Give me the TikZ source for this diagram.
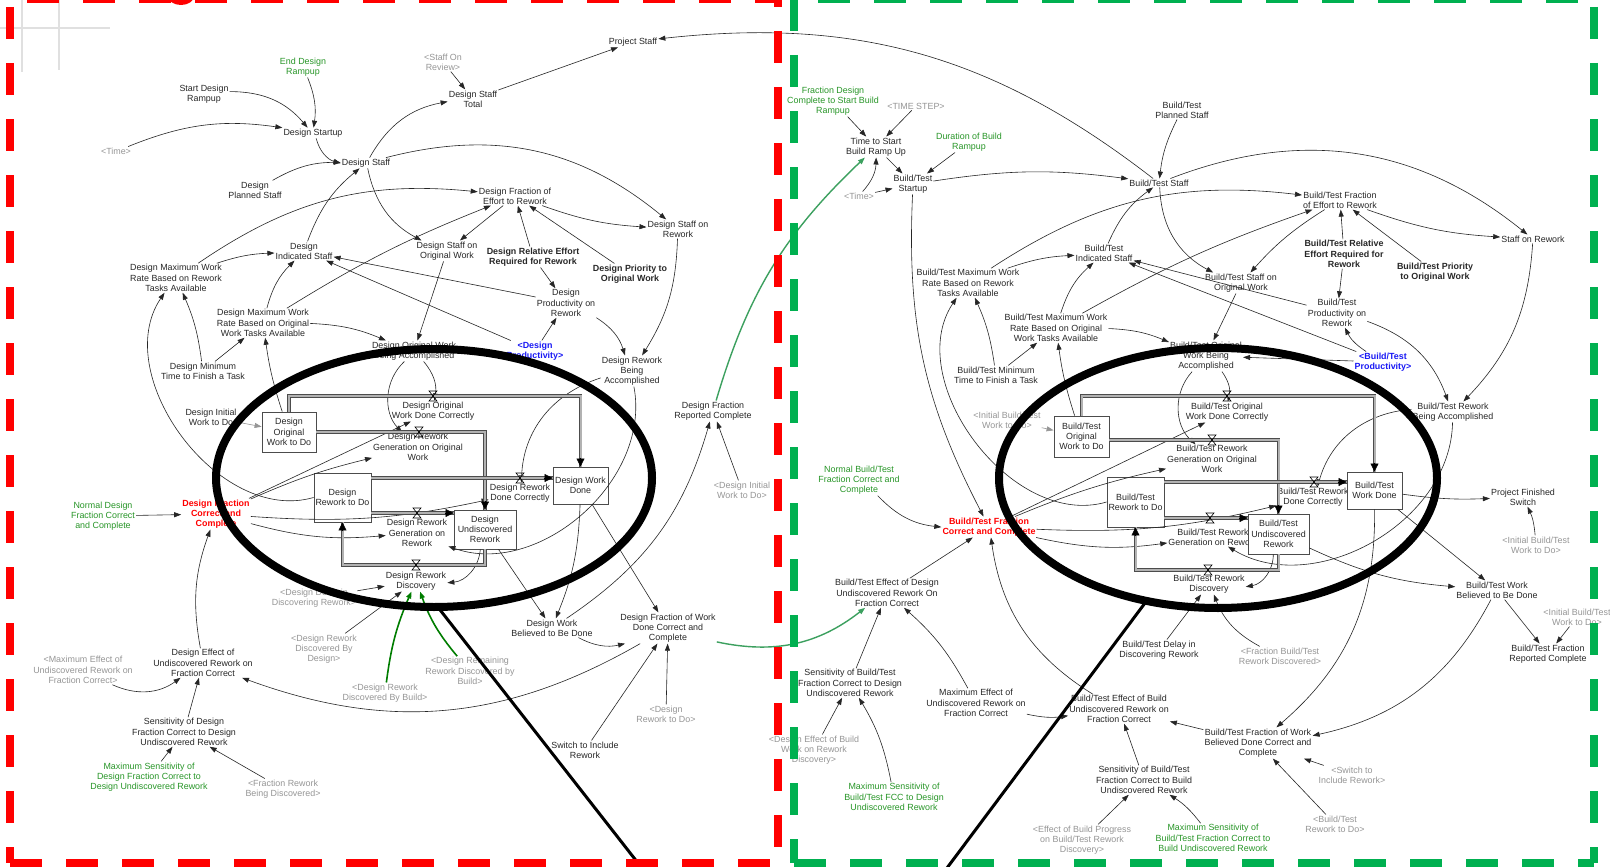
\documentclass[tikz,border=0pt]{standalone}
\usepackage{fontspec}
\setmainfont{Liberation Sans}
\usetikzlibrary{arrows.meta, calc}

\definecolor{vtext}{RGB}{40,40,40}
\definecolor{vgray}{RGB}{150,150,150}
\definecolor{vgreen}{RGB}{40,150,40}
\definecolor{vblue}{RGB}{25,25,245}
\definecolor{framegreen}{RGB}{0,176,80}
\definecolor{feedgreen}{RGB}{60,160,95}
\definecolor{darkfeed}{RGB}{0,125,0}
\newcommand\varfont{\fontsize{8.9pt}{10.3pt}\selectfont}

\begin{document}
\begin{tikzpicture}[
    x=1pt, y=-1pt,
    var/.style={align=center, font=\varfont, text=vtext, inner sep=1pt},
    shadowvar/.style={var, text=vgray},
    constvar/.style={var, text=vgreen},
    boldvar/.style={var, font=\varfont\bfseries},
    hotvar/.style={boldvar, text=red},
    extvar/.style={boldvar, text=vblue},
    stock/.style={draw=black!70, fill=white, line width=0.8pt, align=center, font=\varfont, text=vtext, inner sep=1pt},
    link/.style={-{Triangle[length=7pt,width=5pt]}, line width=0.6pt, draw=black!85},
    shlink/.style={link, draw=vgray},
    feed/.style={link, draw=feedgreen, line width=1.4pt},
    bfeed/.style={link, draw=darkfeed, line width=1.6pt},
    pipe/.style={draw=black!70, double=black!30, double distance=2pt, line width=0.8pt},
    pipetip/.style={-{Triangle[length=8pt,width=8pt]}, line width=0.4pt},
    arcl/.style={bend left=#1}, arcr/.style={bend right=#1},
    valve/.pic={\draw[line width=0.6pt] (-4,-5) -- (4,-5) -- (-4,5) -- (4,5) -- cycle;},
    secframe/.style={line width=8pt, dash pattern=on 32pt off 24pt}
]
\useasboundingbox (0,0) rectangle (1610,867);
\fill[white] (0,0) rectangle (1610,867);

% grid marks, top left
\draw[black!12, line width=1.3pt] (0,28) -- (110,28) (22,0) -- (22,72) (59,0) -- (59,70);
\fill[red] (181,-4) ellipse [x radius=13pt, y radius=9pt];

%%% design sector
\node[constvar] (edr) at (303,67) {End Design\\Rampup};
\node[var] (sdr) at (204,94) {Start Design\\Rampup};
\node[shadowvar] (tm1) at (116,151) {<Time>};
\node[var] (dsu) at (313,133) {Design Startup};
\node[var] (ds) at (366,163) {Design Staff};
\node[var] (dps) at (255,190) {Design\\Planned Staff};
\node[shadowvar] (sor) at (443,62) {<Staff On\\Review>};
\node[var] (dst) at (473,99) {Design Staff\\Total};
\node[var] (ps) at (633,42) {Project Staff};
\node[var] (dfe) at (515,196) {Design Fraction of\\Effort to Rework};
\node[var] (dsr) at (678,229) {Design Staff on\\Rework};
\node[var] (dis) at (304,251) {Design\\Indicated Staff};
\node[var] (dso) at (447,251) {Design Staff on\\Original Work};
\node[boldvar] (dre) at (533,257) {Design Relative Effort\\Required for Rework};
\node[boldvar] (dpo) at (630,274) {Design Priority to\\Original Work};
\node[var] (dmr) at (176,278) {Design Maximum Work\\Rate Based on Rework\\Tasks Available};
\node[var] (dpr) at (566,303) {Design\\Productivity on\\Rework};
\node[var] (dmo) at (263,323) {Design Maximum Work\\Rate Based on Original\\Work Tasks Available};
\node[var] (doba) at (414,351) {Design Original Work\\Being Accomplished};
\node[extvar] (dprod) at (535,351) {<Design\\Productivity>};
\node[var] (drba) at (632,371) {Design Rework\\Being\\Accomplished};
\node[var] (dmin) at (203,371) {Design Minimum\\Time to Finish a Task};
\node[var] (diw) at (211,417) {Design Initial\\Work to Do};
\node[var] (dfrc) at (713,411) {Design Fraction\\Reported Complete};
\node[shadowvar] (diwd) at (742,490) {<Design Initial\\Work to Do>};
\node[constvar] (ndfc) at (103,516) {Normal Design\\Fraction Correct\\and Complete};
\node[hotvar] (dfc) at (216,514) {Design Fraction\\Correct and\\Complete};
\node[shadowvar] (ddel) at (314,598) {<Design Delay in\\Discovering Rework>};
\node[var] (dwbd) at (552,628) {Design Work\\Believed to Be Done};
\node[var] (dfwd) at (668,628) {Design Fraction of Work\\Done Correct and\\Complete};
\node[shadowvar] (drdd) at (324,649) {<Design Rework\\Discovered By\\Design>};
\node[var] (deff) at (203,663) {Design Effect of\\Undiscovered Rework on\\Fraction Correct};
\node[shadowvar] (mxe) at (83,670) {<Maximum Effect of\\Undiscovered Rework on\\Fraction Correct>};
\node[shadowvar] (drrb) at (470,671) {<Design Remaining\\Rework Discovered by\\Build>};
\node[shadowvar] (drdb) at (385,693) {<Design Rework\\Discovered By Build>};
\node[shadowvar] (drtd) at (666,714) {<Design\\Rework to Do>};
\node[var] (sdf) at (184,732) {Sensitivity of Design\\Fraction Correct to Design\\Undiscovered Rework};
\node[var] (sir) at (585,750) {Switch to Include\\Rework};
\node[constvar] (msd) at (149,777) {Maximum Sensitivity of\\Design Fraction Correct to\\Design Undiscovered Rework};
\node[shadowvar] (frbd) at (283,789) {<Fraction Rework\\Being Discovered>};
% design flows
\node[var] (dodc) at (433,411) {Design Original\\Work Done Correctly};
\node[var] (drgo) at (418,447) {Design Rework\\Generation on Original\\Work};
\node[var] (drdc) at (520,493) {Design Rework\\Done Correctly};
\node[var] (drgr) at (417,533) {Design Rework\\Generation on\\Rework};
\node[var] (drdis) at (416,581) {Design Rework\\Discovery};
\coordinate (dv1) at (433,396);
\coordinate (dv2) at (419,432);
\coordinate (dv3) at (520,478);
\coordinate (dv4) at (417,513);
\coordinate (dv5) at (416,565);
% design stocks
\node[stock, minimum width=54pt, minimum height=40pt] (dowd) at (289,432) {Design\\Original\\Work to Do};
\node[stock, minimum width=57pt, minimum height=49pt] (drwd) at (342.5,497.5) {Design\\Rework to Do};
\node[stock, minimum width=55pt, minimum height=37pt] (dwd) at (580.5,485.5) {Design Work\\Done};
\node[stock, minimum width=62pt, minimum height=39pt] (dudr) at (485,529.5) {Design\\Undiscovered\\Rework};

%%% build/test sector
\node[constvar] (fdc) at (833,101) {Fraction Design\\Complete to Start Build\\Rampup};
\node[shadowvar] (tstep) at (916,106) {<TIME STEP>};
\node[var] (tsb) at (876,147) {Time to Start\\Build Ramp Up};
\node[constvar] (dbr) at (969,142) {Duration of Build\\Rampup};
\node[var] (btsu) at (913,184) {Build/Test\\Startup};
\node[shadowvar] (tm2) at (859,196) {<Time>};
\node[var] (btps) at (1182,110) {Build/Test\\Planned Staff};
\node[var] (bts) at (1159,183) {Build/Test Staff};
\node[var] (btfe) at (1340,200) {Build/Test Fraction\\of Effort to Rework};
\node[var] (sor2) at (1533,239) {Staff on Rework};
\node[var] (btis) at (1104,253) {Build/Test\\Indicated Staff};
\node[boldvar] (btre) at (1344,254) {Build/Test Relative\\Effort Required for\\Rework};
\node[boldvar] (btpo) at (1435,272) {Build/Test Priority\\to Original Work};
\node[var] (btso) at (1241,283) {Build/Test Staff on\\Original Work};
\node[var] (btmr) at (968,283) {Build/Test Maximum Work\\Rate Based on Rework\\Tasks Available};
\node[var] (btpr) at (1337,313) {Build/Test\\Productivity on\\Rework};
\node[var] (btmo) at (1056,328) {Build/Test Maximum Work\\Rate Based on Original\\Work Tasks Available};
\node[var] (btoba) at (1206,356) {Build/Test Original\\Work Being\\Accomplished};
\node[extvar] (btprod) at (1383,362) {<Build/Test\\Productivity>};
\node[var] (btmin) at (996,375) {Build/Test Minimum\\Time to Finish a Task};
\node[var] (btrba) at (1453,412) {Build/Test Rework\\Being Accomplished};
\node[shadowvar] (ibw1) at (1007,420) {<Initial Build/Test\\Work to Do>};
\node[constvar] (nbfc) at (859,480) {Normal Build/Test\\Fraction Correct and\\Complete};
\node[var] (pfs) at (1523,497) {Project Finished\\Switch};
\node[hotvar] (btfc) at (989,527) {Build/Test Fraction\\Correct and Complete};
\node[shadowvar] (ibw2) at (1536,545) {<Initial Build/Test\\Work to Do>};
\node[var] (btwbd) at (1497,590) {Build/Test Work\\Believed to Be Done};
\node[var] (bted) at (887,593) {Build/Test Effect of Design\\Undiscovered Rework On\\Fraction Correct};
\node[shadowvar] (ibw3) at (1577,617) {<Initial Build/Test\\Work to Do>};
\node[var] (btdel) at (1159,650) {Build/Test Delay in\\Discovering Rework};
\node[var] (btfrc) at (1548,654) {Build/Test Fraction\\Reported Complete};
\node[shadowvar] (fbrd) at (1280,656) {<Fraction Build/Test\\Rework Discovered>};
\node[var] (sbd) at (850,683) {Sensitivity of Build/Test\\Fraction Correct to Design\\Undiscovered Rework};
\node[var] (mxe2) at (976,703) {Maximum Effect of\\Undiscovered Rework on\\Fraction Correct};
\node[var] (bteb) at (1119,709) {Build/Test Effect of Build\\Undiscovered Rework on\\Fraction Correct};
\node[var] (btfwb) at (1258,743) {Build/Test Fraction of Work\\Believed Done Correct and\\Complete};
\node[shadowvar] (debw) at (814,750) {<Design Effect of Build\\Work on Rework\\Discovery>};
\node[shadowvar] (sir2) at (1352,775) {<Switch to\\Include Rework>};
\node[var] (sbb) at (1144,780) {Sensitivity of Build/Test\\Fraction Correct to Build\\Undiscovered Rework};
\node[constvar] (msbd) at (894,797) {Maximum Sensitivity of\\Build/Test FCC to Design\\Undiscovered Rework};
\node[shadowvar] (btrtd) at (1335,824) {<Build/Test\\Rework to Do>};
\node[constvar] (msb) at (1213,838) {Maximum Sensitivity of\\Build/Test Fraction Correct to\\Build Undiscovered Rework};
\node[shadowvar] (ebp) at (1082,840) {<Effect of Build Progress\\on Build/Test Rework\\Discovery>};
% build/test flows
\node[var] (btodc) at (1227,412) {Build/Test Original\\Work Done Correctly};
\node[var] (btrgo) at (1212,459) {Build/Test Rework\\Generation on Original\\Work};
\node[var] (btrdc) at (1313,497) {Build/Test Rework\\Done Correctly};
\node[var] (btrgr) at (1213,537) {Build/Test Rework\\Generation on Rework};
\node[var] (btrdis) at (1209,584) {Build/Test Rework\\Discovery};
\coordinate (bv1) at (1227,396);
\coordinate (bv2) at (1212,440);
\coordinate (bv3) at (1314,482);
\coordinate (bv4) at (1210,518);
\coordinate (bv5) at (1208,570);
% build/test stocks
\node[stock, minimum width=55pt, minimum height=41pt] (btowd) at (1081.5,436.5) {Build/Test\\Original\\Work to Do};
\node[stock, minimum width=57pt, minimum height=50pt] (btrwd) at (1135.5,502) {Build/Test\\Rework to Do};
\node[stock, minimum width=55pt, minimum height=37pt] (btwd) at (1374.5,490.5) {Build/Test\\Work Done};
\node[stock, minimum width=61pt, minimum height=40pt] (btudr) at (1278.5,534) {Build/Test\\Undiscovered\\Rework};

% design links
\draw[link] (sdr) to[arcl=25] (dsu);
\draw[link] (edr) to[arcl=15] (dsu);
\draw[link] (tm1) to[arcl=15] (dsu);
\draw[link] (dsu) to[arcr=30] (ds);
\draw[link] (dps) to[arcl=15] (ds);
\draw[link] (dis) to[arcl=15] (ds);
\draw[link] (ds) to[arcl=25] (dst);
\draw[link] (sor) -- (dst);
\draw[link] (dst) -- (ps);
\draw[link] (ds) to[arcl=27] (dsr);
\draw[link] (ds) to[arcr=25] (dso);
\draw[link] (dfe) -- (dso);
\draw[link] (dfe) to[arcr=8] (dsr);
\draw[link] (dre) -- (dfe);
\draw[link] (dpo) -- (dfe);
\draw[link] (dre) -- (dpr);
\draw[link] (dmr) to[arcl=20] (dfe);
\draw[link] (dmo) to[arcl=5] (dfe);
\draw[link] (dmr) to[arcl=8] (dis);
\draw[link] (dmo) to[arcl=15] (dis);
\draw[link] (dmin) to[arcr=8] (dmr);
\draw[link] (dmin) -- (dmo);
\draw[link] (dowd) to[arcl=5] (dmo);
\draw[link] (drwd.west) to[arcl=70] (dmr);
\draw[shlink] (diw) -- (dowd);
\draw[link] (dprod) -- (dis);
\draw[link] (dprod) -- (dpr);
\draw[link] (dpr) -- (dis);
\draw[link] (dso) -- (doba);
\draw[link] (dmo) to[arcl=10] (doba);
\draw[link] (doba) to[arcl=25] (dodc);
\draw[link] (doba) to[arcr=45] (drgo);
\draw[link] (dfc) -- (dodc);
\draw[link] (dfc) to[arcl=5] (drgo);
\draw[link] (dfc) to[arcr=8] (drdc);
\draw[link] (dfc) to[arcr=10] (drgr);
\draw[link] (drba) to[arcr=35] (drdc);
\draw[link] (drba) to[arcl=60] (drgr);
\draw[link] (dsr) to[arcl=15] (drba);
\draw[link] (dpr) to[arcl=20] (drba);
\draw[link] (dudr) to[arcl=40] (drdis);
\draw[link] (ddel) -- (drdis);
\draw[link] (drdd) -- (drdis);
\draw[bfeed] (drdb) to[arcl=8] (drdis);
\draw[bfeed] (drrb) to[arcl=10] (drdis);
\draw[link] (dudr) -- (dwbd);
\draw[link] (dwd) to[arcl=10] (dwbd);
\draw[link] (dwd) -- (dfwd);
\draw[link] (dwbd) to[arcr=20] (dfwd);
\draw[link] (sir) -- (dfwd);
\draw[link] (drtd) -- (dfwd);
\draw[link] (dfwd) to[arcl=25] (deff);
\draw[link] (dwbd) to[arcr=20] (dfrc);
\draw[link] (diwd) -- (dfrc);
\draw[link] (deff) to[arcl=15] (dfc);
\draw[link] (ndfc) -- (dfc);
\draw[link] (mxe) to[arcr=30] (deff);
\draw[link] (sdf) -- (deff);
\draw[link] (msd) -- (sdf);
\draw[link] (frbd) -- (sdf);

% links between sectors
\draw[link] (bts) to[arcr=22] (ps);
\draw[feed] (dfrc) to[arcl=15] (tsb);
\draw[feed] (dfwd) to[arcr=25] (bted);

% build/test links
\draw[link] (fdc) -- (tsb);
\draw[link] (tstep) -- (tsb);
\draw[link] (tm2) to[arcr=20] (tsb);
\draw[link] (tm2) -- (btsu);
\draw[link] (tsb) -- (btsu);
\draw[link] (dbr) -- (btsu);
\draw[link] (btsu) to[arcl=8] (bts);
\draw[link] (btsu) to[arcr=15] (btfc);
\draw[link] (btps) to[arcr=10] (bts);
\draw[link] (btis) to[arcl=15] (bts);
\draw[link] (bts) to[arcl=30] (sor2);
\draw[link] (bts) to[arcr=30] (btso);
\draw[link] (btfe) to[arcr=8] (btso);
\draw[link] (btfe) to[arcr=8] (sor2);
\draw[link] (btre) -- (btfe);
\draw[link] (btpo) -- (btfe);
\draw[link] (btre) -- (btpr);
\draw[link] (btmr) to[arcl=20] (btfe);
\draw[link] (btmo) to[arcl=5] (btfe);
\draw[link] (btmr) to[arcl=8] (btis);
\draw[link] (btmo) to[arcl=15] (btis);
\draw[link] (btmin) to[arcr=8] (btmr);
\draw[link] (btmin) -- (btmo);
\draw[link] (btowd) to[arcl=5] (btmo);
\draw[link] (btrwd.west) to[arcl=70] (btmr);
\draw[shlink] (ibw1) -- (btowd);
\draw[link] (btprod) -- (btis);
\draw[link] (btprod) to[arcl=15] (btpr);
\draw[link] (btprod) -- (btoba);
\draw[link] (btpr) -- (btis);
\draw[link] (btpr) to[arcl=25] (btrba);
\draw[link] (btso) -- (btoba);
\draw[link] (btmo) to[arcl=10] (btoba);
\draw[link] (sor2) to[arcl=20] (btrba);
\draw[link] (btoba) to[arcl=25] (btodc);
\draw[link] (btoba) to[arcr=45] (btrgo);
\draw[link] (btfc) -- (btodc);
\draw[link] (btfc) to[arcl=5] (btrgo);
\draw[link] (btfc) to[arcr=8] (btrdc);
\draw[link] (btfc) to[arcr=10] (btrgr);
\draw[link] (btrba) to[arcr=35] (btrdc);
\draw[link] (btrba) to[arcl=60] (btrgr);
\draw[link] (btudr) to[arcl=40] (btrdis);
\draw[link] (btdel) -- (btrdis);
\draw[link] (fbrd) to[arcl=20] (btrdis);
\draw[link] (btudr) to[arcr=10] (btwbd);
\draw[link] (btwd) -- (btwbd);
\draw[link] (btwd) to[arcr=5] (pfs);
\draw[link] (btwd) to[arcl=25] (btfwb);
\draw[link] (ibw2) to[arcr=10] (pfs);
\draw[link] (btwbd) -- (btfrc);
\draw[link] (ibw3) -- (btfrc);
\draw[link] (btwbd) to[arcl=25] (btfwb);
\draw[link] (sir2) -- (btfwb);
\draw[link] (btrtd) -- (btfwb);
\draw[link] (btfwb) -- (bteb);
\draw[link] (sbb) -- (bteb);
\draw[link] (ebp) -- (sbb);
\draw[link] (msb) to[arcr=10] (sbb);
\draw[link] (mxe2) to[arcr=10] (bteb);
\draw[link] (mxe2) to[arcr=10] (bted);
\draw[link] (sbd) -- (bted);
\draw[link] (debw) -- (sbd);
\draw[link] (msbd) to[arcr=10] (sbd);
\draw[link] (bted) -- (btfc);
\draw[link] (bteb) to[arcl=25] (btfc);
\draw[link] (nbfc) to[arcr=20] (btfc);

% pipes, design
\draw[pipe] (dowd.north) |- (dv1) -| (dwd.north);
\draw[pipe] (dowd.east |- dv2) -- (dv2) -| (dudr.north);
\draw[pipe] (drwd.east |- dv3) -- (dv3) -- (dwd.west |- dv3);
\draw[pipe] (drwd.east |- dv4) -- (dv4) -- (dudr.west |- dv4);
\draw[pipe] (dudr.south) |- (dv5) -| (drwd.south);
\draw[pipetip] ($(dwd.north)+(0,-9)$) -- (dwd.north);
\draw[pipetip] ($(dudr.north)+(0,-9)$) -- (dudr.north);
\draw[pipetip] ($(dwd.west |- dv3)+(-9,0)$) -- (dwd.west |- dv3);
\draw[pipetip] ($(dudr.west |- dv4)+(-9,0)$) -- (dudr.west |- dv4);
\draw[pipetip] ($(drwd.south)+(0,9)$) -- (drwd.south);
\foreach \v in {dv1,dv2,dv3,dv4,dv5} \pic at (\v) {valve};

% pipes, build/test
\draw[pipe] (btowd.north) |- (bv1) -| (btwd.north);
\draw[pipe] (btowd.east |- bv2) -- (bv2) -| (btudr.north);
\draw[pipe] (btrwd.east |- bv3) -- (bv3) -- (btwd.west |- bv3);
\draw[pipe] (btrwd.east |- bv4) -- (bv4) -- (btudr.west |- bv4);
\draw[pipe] (btudr.south) |- (bv5) -| (btrwd.south);
\draw[pipetip] ($(btwd.north)+(0,-9)$) -- (btwd.north);
\draw[pipetip] ($(btudr.north)+(0,-9)$) -- (btudr.north);
\draw[pipetip] ($(btwd.west |- bv3)+(-9,0)$) -- (btwd.west |- bv3);
\draw[pipetip] ($(btudr.west |- bv4)+(-9,0)$) -- (btudr.west |- bv4);
\draw[pipetip] ($(btrwd.south)+(0,9)$) -- (btrwd.south);
\foreach \v in {bv1,bv2,bv3,bv4,bv5} \pic at (\v) {valve};

% highlight rings
\coordinate (dtail) at (437,606);
\coordinate (dfoot) at (645,872);
\coordinate (btail) at (1145,603);
\coordinate (bfoot) at (944,872);
\draw[line width=8pt] (434,478) ellipse [x radius=218pt, y radius=129pt];
\draw[line width=8pt] (1218,478) ellipse [x radius=219pt, y radius=130pt];
\draw[line width=3pt] (dtail) -- (dfoot);
\draw[line width=3pt] (btail) -- (bfoot);

% sector frames
\draw[secframe, red, dash phase=39pt] (10,-1) -- (778,-1);
\draw[secframe, red, dash phase=48pt] (10,-1) -- (10,863);
\draw[secframe, red] (10,863) -- (778,863);
\draw[secframe, red, dash phase=24pt] (778,-1) -- (778,863);
\draw[secframe, framegreen, dash phase=32pt] (794,-1) -- (1594,-1);
\draw[secframe, framegreen] (794,-1) -- (794,863);
\draw[secframe, framegreen] (794,863) -- (1594,863);
\draw[secframe, framegreen, dash phase=48pt] (1594,-1) -- (1594,863);
\end{tikzpicture}
\end{document}
